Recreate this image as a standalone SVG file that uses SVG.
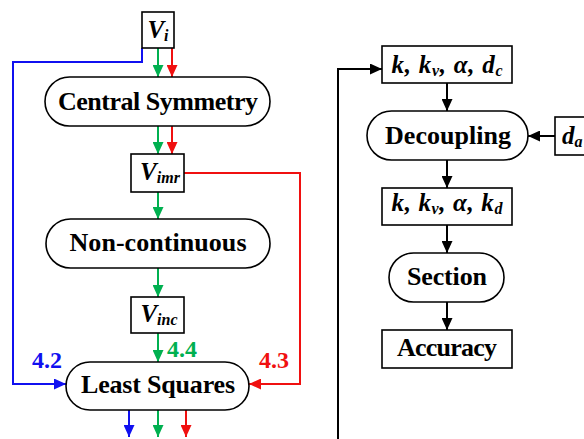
<svg xmlns="http://www.w3.org/2000/svg" width="584" height="439" viewBox="0 0 584 439">
<style>
.node{fill:#fff;stroke:#000;stroke-width:1.6}
.lbl{font-family:"Liberation Serif",serif;font-weight:bold;font-size:26px;fill:#000;text-anchor:middle}
.var{font-family:"Liberation Serif",serif;font-weight:bold;font-style:italic;font-size:25px;fill:#000;text-anchor:middle}
.sub{font-size:16px}
.num{font-family:"Liberation Serif",serif;font-weight:bold;font-size:24px}
.c{fill:none;stroke-width:2}
.blue{stroke:#1010f0}
.green{stroke:#00b050}
.red{stroke:#f01010}
.black{stroke:#000}
</style>
<defs>
<marker id="ab" viewBox="0 0 12 11" refX="12" refY="5.5" markerWidth="12" markerHeight="11" orient="auto" markerUnits="userSpaceOnUse"><path d="M0,0 L12,5.5 L0,11 z" fill="#1010f0"/></marker>
<marker id="ag" viewBox="0 0 12 11" refX="12" refY="5.5" markerWidth="12" markerHeight="11" orient="auto" markerUnits="userSpaceOnUse"><path d="M0,0 L12,5.5 L0,11 z" fill="#00b050"/></marker>
<marker id="ar" viewBox="0 0 12 11" refX="12" refY="5.5" markerWidth="12" markerHeight="11" orient="auto" markerUnits="userSpaceOnUse"><path d="M0,0 L12,5.5 L0,11 z" fill="#f01010"/></marker>
<marker id="ak" viewBox="0 0 12 11" refX="12" refY="5.5" markerWidth="12" markerHeight="11" orient="auto" markerUnits="userSpaceOnUse"><path d="M0,0 L12,5.5 L0,11 z" fill="#000"/></marker>
</defs>
<g id="connectors">
<path class="c blue" d="M142,48 V62 H13 V384 H66" marker-end="url(#ab)"/>
<path class="c green" d="M158,48 V77" marker-end="url(#ag)"/>
<path class="c red" d="M172,48 V77" marker-end="url(#ar)"/>
<path class="c green" d="M158,126 V154" marker-end="url(#ag)"/>
<path class="c red" d="M172,126 V154" marker-end="url(#ar)"/>
<path class="c red" d="M184,173 H300 V384 H249" marker-end="url(#ar)"/>
<path class="c green" d="M158,192 V219" marker-end="url(#ag)"/>
<path class="c green" d="M158,268 V297" marker-end="url(#ag)"/>
<path class="c green" d="M158,333 V362" marker-end="url(#ag)"/>
<path class="c blue" d="M129,410 V437" marker-end="url(#ab)"/>
<path class="c green" d="M158,410 V437" marker-end="url(#ag)"/>
<path class="c red" d="M186,410 V437" marker-end="url(#ar)"/>
<path class="c black" d="M338,439 V69 H382" marker-end="url(#ak)"/>
<path class="c black" d="M447,83 V111" marker-end="url(#ak)"/>
<path class="c black" d="M555,136 H528" marker-end="url(#ak)"/>
<path class="c black" d="M447,160 V188" marker-end="url(#ak)"/>
<path class="c black" d="M447,225 V253" marker-end="url(#ak)"/>
<path class="c black" d="M447,302 V330" marker-end="url(#ak)"/>
</g>
<g id="labels">
<text class="num" x="32" y="368" fill="#1010f0">4.2</text>
<text class="num" x="167" y="357" fill="#00b050">4.4</text>
<text class="num" x="259" y="368" fill="#f01010">4.3</text>
</g>
<g id="vi"><rect class="node" x="142" y="12" width="32" height="36"/><text class="var" x="158" y="38">V<tspan class="sub" dy="3">i</tspan></text></g>
<g id="central"><rect class="node" x="45" y="77" width="225" height="49" rx="24.5"/><text class="lbl" x="158" y="110" textLength="200" lengthAdjust="spacing">Central Symmetry</text></g>
<g id="vimr"><rect class="node" x="131" y="154" width="53" height="38"/><text class="var" x="160" y="180">V<tspan class="sub" dy="3">imr</tspan></text></g>
<g id="noncont"><rect class="node" x="46" y="219" width="224" height="49" rx="24.5"/><text class="lbl" x="158" y="251" textLength="177" lengthAdjust="spacing">Non-continuous</text></g>
<g id="vinc"><rect class="node" x="131" y="297" width="53" height="36"/><text class="var" x="159" y="322">V<tspan class="sub" dy="3">inc</tspan></text></g>
<g id="lsq"><rect class="node" x="66" y="362" width="183" height="48" rx="24"/><text class="lbl" x="158" y="393" textLength="154" lengthAdjust="spacing">Least Squares</text></g>
<g id="kdc"><rect class="node" x="382" y="46" width="130" height="37"/><text class="var" x="447" y="73" textLength="111" lengthAdjust="spacing">k, k<tspan class="sub" dy="3">v</tspan><tspan dy="-3">, α, d</tspan><tspan class="sub" dy="3">c</tspan></text></g>
<g id="decoupling"><rect class="node" x="367" y="111" width="161" height="49" rx="24.5"/><text class="lbl" x="448" y="144" textLength="126" lengthAdjust="spacing">Decoupling</text></g>
<g id="da"><rect class="node" x="555" y="117" width="40" height="38"/><text class="var" x="562" y="144" style="text-anchor:start">d<tspan class="sub" dy="3">a</tspan></text></g>
<g id="kkd"><rect class="node" x="382" y="188" width="130" height="37"/><text class="var" x="447" y="211" textLength="111" lengthAdjust="spacing">k, k<tspan class="sub" dy="3">v</tspan><tspan dy="-3">, α, k</tspan><tspan class="sub" dy="3">d</tspan></text></g>
<g id="section"><rect class="node" x="389" y="253" width="115" height="49" rx="24.5"/><text class="lbl" x="447" y="285" textLength="80" lengthAdjust="spacing">Section</text></g>
<g id="accuracy"><rect class="node" x="382" y="330" width="130" height="38"/><text class="lbl" x="447" y="356" textLength="100" lengthAdjust="spacing">Accuracy</text></g>
</svg>
